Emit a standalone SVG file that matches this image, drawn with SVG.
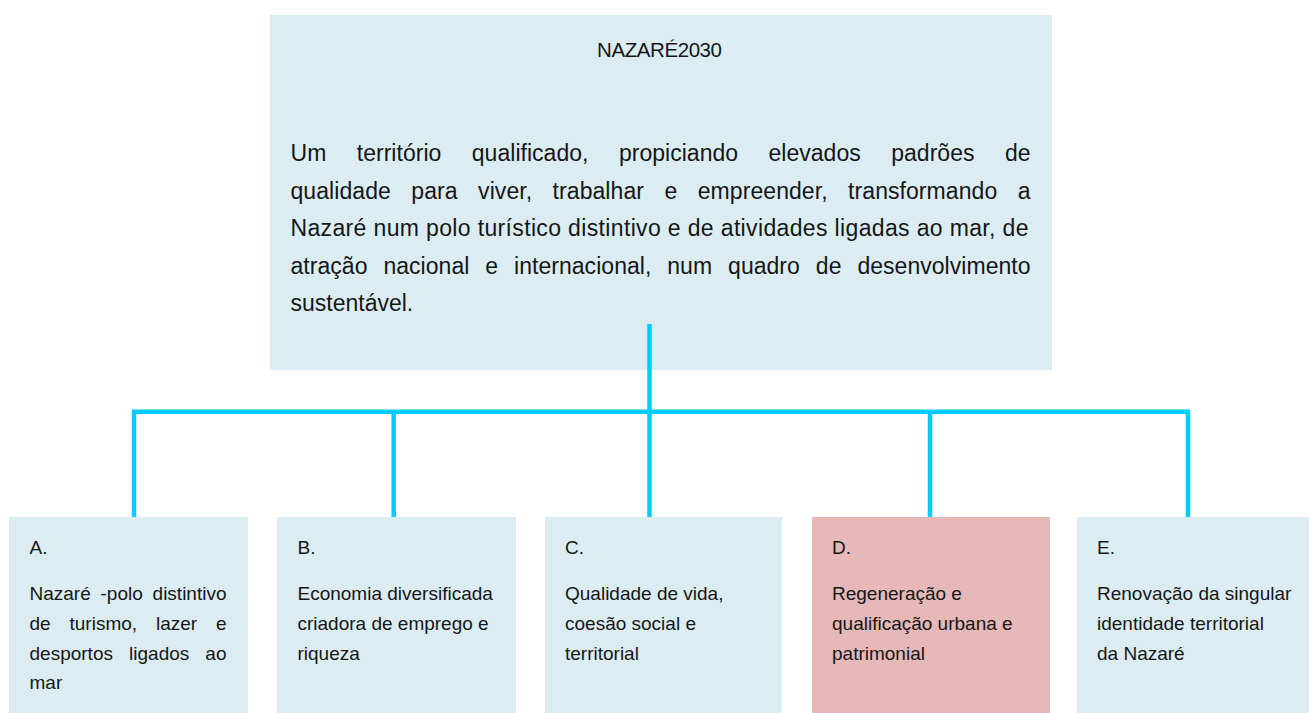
<svg xmlns="http://www.w3.org/2000/svg" width="1309" height="713" viewBox="0 0 1309 713">
<style>
.box{fill:#DBEDF3}
.boxd{fill:#E6B8B7}
.t{font-family:"Liberation Sans",Arial,sans-serif;fill:#161616}
.title{font-size:20.5px}
.body{font-size:23px}
.sm{font-size:19px}
.conn{stroke:#00CCFF;stroke-width:4.5;fill:none}
</style>
<rect width="1309" height="713" fill="#ffffff"/>
<g id="node-top">
<rect class="box" x="270" y="15" width="782" height="355"/>
<text class="t title" x="597" y="57" textLength="125" lengthAdjust="spacing">NAZARÉ2030</text>
<text class="t body" x="290.5" y="161" word-spacing="24" textLength="740" lengthAdjust="spacing">Um território qualificado, propiciando elevados padrões de</text>
<text class="t body" x="290.5" y="198.5" word-spacing="14" textLength="740" lengthAdjust="spacing">qualidade para viver, trabalhar e empreender, transformando a</text>
<text class="t body" x="290.5" y="236" textLength="738" lengthAdjust="spacing">Nazaré num polo turístico distintivo e de atividades ligadas ao mar, de</text>
<text class="t body" x="290.5" y="273.5" word-spacing="9.5" textLength="740" lengthAdjust="spacing">atração nacional e internacional, num quadro de desenvolvimento</text>
<text class="t body" x="290.5" y="311">sustentável.</text>
</g>
<g id="connectors">
<line class="conn" x1="649.5" y1="324" x2="649.5" y2="517"/>
<line class="conn" x1="132" y1="411.7" x2="1190" y2="411.7"/>
<line class="conn" x1="134" y1="410" x2="134" y2="517"/>
<line class="conn" x1="393.7" y1="410" x2="393.7" y2="517"/>
<line class="conn" x1="930" y1="410" x2="930" y2="517"/>
<line class="conn" x1="1188" y1="410" x2="1188" y2="517"/>
</g>
<g id="node-a">
<rect class="box" x="9" y="517" width="239" height="196"/>
<text class="t sm" x="29.5" y="554">A.</text>
<text class="t sm" x="29.5" y="600" word-spacing="4.5" textLength="197" lengthAdjust="spacing">Nazaré -polo distintivo</text>
<text class="t sm" x="29.5" y="630" word-spacing="13.5" textLength="197" lengthAdjust="spacing">de turismo, lazer e</text>
<text class="t sm" x="29.5" y="660" word-spacing="10.8" textLength="197" lengthAdjust="spacing">desportos ligados ao</text>
<text class="t sm" x="29.5" y="689">mar</text>
</g>
<g id="node-b">
<rect class="box" x="277" y="517" width="239" height="196"/>
<text class="t sm" x="297.5" y="554">B.</text>
<text class="t sm" x="297.5" y="600">Economia diversificada</text>
<text class="t sm" x="297.5" y="630">criadora de emprego e</text>
<text class="t sm" x="297.5" y="660">riqueza</text>
</g>
<g id="node-c">
<rect class="box" x="545" y="517" width="237" height="196"/>
<text class="t sm" x="565" y="554">C.</text>
<text class="t sm" x="565" y="600">Qualidade de vida,</text>
<text class="t sm" x="565" y="630">coesão social e</text>
<text class="t sm" x="565" y="660">territorial</text>
</g>
<g id="node-d">
<rect class="boxd" x="812" y="517" width="238" height="196"/>
<text class="t sm" x="832" y="554">D.</text>
<text class="t sm" x="832" y="600">Regeneração e</text>
<text class="t sm" x="832" y="630">qualificação urbana e</text>
<text class="t sm" x="832" y="660">patrimonial</text>
</g>
<g id="node-e">
<rect class="box" x="1077" y="517" width="232" height="196"/>
<text class="t sm" x="1097" y="554">E.</text>
<text class="t sm" x="1097" y="600">Renovação da singular</text>
<text class="t sm" x="1097" y="630">identidade territorial</text>
<text class="t sm" x="1097" y="660">da Nazaré</text>
</g>
</svg>
